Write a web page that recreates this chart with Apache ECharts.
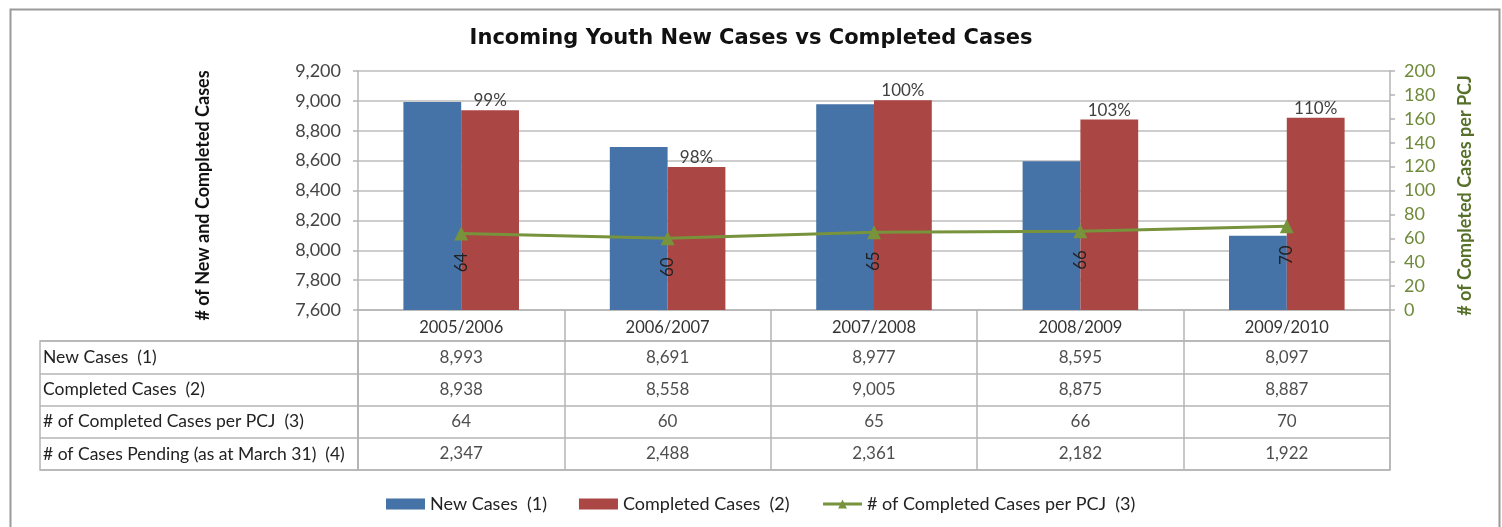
<!DOCTYPE html>
<html>
<head>
<meta charset="utf-8">
<title>Incoming Youth New Cases vs Completed Cases</title>
<script src="https://cdn.jsdelivr.net/npm/echarts@6/dist/echarts.min.js"></script>
<style>
  html, body { margin: 0; padding: 0; background: #fff; }
  #chart { width: 1502px; height: 527px; }
</style>
</head>
<body>
<div id="chart"></div>
<script>
// fiscal years
var years = ['2005/2006', '2006/2007', '2007/2008', '2008/2009', '2009/2010'];
var newCases = [8993, 8691, 8977, 8595, 8097];
var completedCases = [8938, 8558, 9005, 8875, 8887];
var casesPerPcj = [64, 60, 65, 66, 70];
var casesPending = [2347, 2488, 2361, 2182, 1922];
// labels over the completed bars
var clearanceRate = ['99%', '98%', '100%', '103%', '110%'];
var rowLabels = [
  'New Cases  (1)',
  'Completed Cases  (2)',
  '# of Completed Cases per PCJ  (3)',
  '# of Cases Pending (as at March 31)  (4)'
];

var FONT = 'Lato';
var GRID_COLOR = '#bdbdbd';
var BORDER_COLOR = '#b4b4b4';

// data table under the chart, one cell per [year, row, value]
var tableRows = [newCases, completedCases, casesPerPcj, casesPending];
var tableCells = [];
tableRows.forEach(function (row, r) {
  row.forEach(function (v, i) {
    tableCells.push([i, r, v]);
  });
});

var myChart = echarts.init(document.getElementById('chart'));

var option = {
  animation: false,
  backgroundColor: '#fff',
  textStyle: { fontFamily: FONT },
  title: {
    text: 'Incoming Youth New Cases vs Completed Cases',
    left: 'center',
    top: 23,
    textStyle: { fontFamily: 'DejaVu Sans', fontSize: 21, fontWeight: 'bold', color: '#111' }
  },
  legend: {
    top: 495,
    left: 386,
    padding: 0,
    itemWidth: 39,
    itemHeight: 11,
    itemGap: 32,
    textStyle: { fontFamily: FONT, fontSize: 18, color: '#222' },
    data: [
      { name: 'New Cases  (1)', icon: 'rect' },
      { name: 'Completed Cases  (2)', icon: 'rect' },
      { name: '# of Completed Cases per PCJ  (3)', lineStyle: { width: 3 } }
    ]
  },
  graphic: [{
    type: 'rect',
    left: 8, top: 7,
    shape: { width: 1489, height: 540 },
    style: { fill: 'none', stroke: '#9a9a9a', lineWidth: 2 },
    silent: true
  }],
  grid: [
    { left: 358, right: 112, top: 71, height: 239 },
    { left: 40, width: 318, top: 341, height: 129, show: true, borderColor: BORDER_COLOR, borderWidth: 1.5 },
    { left: 358, width: 1032, top: 341, height: 129, show: true, borderColor: BORDER_COLOR, borderWidth: 1.5 }
  ],
  xAxis: [
    {
      type: 'category',
      gridIndex: 0,
      data: years,
      axisLine: { lineStyle: { color: BORDER_COLOR, width: 1.5 } },
      axisTick: { show: true, length: 31, lineStyle: { color: BORDER_COLOR, width: 1.5 } },
      axisLabel: { fontSize: 16.5, color: '#333', margin: 9 }
    },
    { type: 'value', gridIndex: 1, show: false, min: 0, max: 1 },
    {
      type: 'category',
      gridIndex: 2,
      data: years,
      axisLine: { show: false },
      axisTick: { show: false },
      axisLabel: { show: false },
      splitLine: { show: true, interval: 0, lineStyle: { color: BORDER_COLOR, width: 1.5 } }
    }
  ],
  yAxis: [
    {
      type: 'value',
      gridIndex: 0,
      min: 7600,
      max: 9200,
      interval: 200,
      name: '# of New and Completed Cases',
      nameLocation: 'middle',
      nameGap: 146,
      nameTextStyle: { fontFamily: FONT, fontSize: 18, fontWeight: 'bold', color: '#111', padding: [0, 10, 0, 0] },
      axisLine: { show: true, lineStyle: { color: BORDER_COLOR, width: 1.5 } },
      axisTick: { show: true, length: 5, lineStyle: { color: BORDER_COLOR, width: 1.5 } },
      axisLabel: {
        fontSize: 18, color: '#444', margin: 17,
        formatter: function (v) { return v.toLocaleString('en-US'); }
      },
      splitLine: { lineStyle: { color: GRID_COLOR, width: 1.5 } }
    },
    {
      type: 'value',
      gridIndex: 0,
      position: 'right',
      min: 0,
      max: 200,
      interval: 20,
      name: '# of Completed Cases per PCJ',
      nameLocation: 'middle',
      nameGap: 66,
      nameRotate: 90,
      nameTextStyle: { fontFamily: FONT, fontSize: 18, fontWeight: 'bold', color: '#56702a', padding: [0, 10, 0, 0] },
      axisLine: { show: true, lineStyle: { color: BORDER_COLOR, width: 1.5 } },
      axisTick: { show: true, length: 5, lineStyle: { color: BORDER_COLOR, width: 1.5 } },
      axisLabel: { fontSize: 18, color: '#6f8a3a', margin: 14 },
      splitLine: { show: false }
    },
    {
      type: 'category',
      gridIndex: 1,
      inverse: true,
      data: rowLabels,
      axisLine: { show: false },
      axisTick: { show: false },
      axisLabel: { fontSize: 17.5, color: '#222', align: 'left', margin: -3 },
      splitLine: { show: true, interval: 0, lineStyle: { color: BORDER_COLOR, width: 1.5 } }
    },
    {
      type: 'category',
      gridIndex: 2,
      inverse: true,
      data: rowLabels,
      axisLine: { show: false },
      axisTick: { show: false },
      axisLabel: { show: false },
      splitLine: { show: true, interval: 0, lineStyle: { color: BORDER_COLOR, width: 1.5 } }
    }
  ],
  series: [
    {
      name: 'New Cases  (1)',
      type: 'bar',
      xAxisIndex: 0,
      yAxisIndex: 0,
      barWidth: '28%',
      barGap: '0%',
      itemStyle: { color: '#4572a7' },
      data: newCases
    },
    {
      name: 'Completed Cases  (2)',
      type: 'bar',
      xAxisIndex: 0,
      yAxisIndex: 0,
      barWidth: '28%',
      itemStyle: { color: '#aa4643' },
      label: {
        show: true,
        position: 'top',
        distance: 1,
        fontSize: 17,
        color: '#404040',
        formatter: function (p) { return clearanceRate[p.dataIndex]; }
      },
      data: completedCases
    },
    {
      name: '# of Completed Cases per PCJ  (3)',
      type: 'line',
      xAxisIndex: 0,
      yAxisIndex: 1,
      symbol: 'triangle',
      symbolSize: 14,
      lineStyle: { color: '#77933c', width: 3 },
      itemStyle: { color: '#77933c' },
      label: {
        show: true,
        position: 'bottom',
        distance: 12,
        rotate: 90,
        align: 'right',
        verticalAlign: 'middle',
        fontSize: 17,
        color: '#222'
      },
      z: 5,
      data: casesPerPcj
    },
    {
      name: 'table',
      type: 'scatter',
      xAxisIndex: 2,
      yAxisIndex: 3,
      symbolSize: 1,
      silent: true,
      itemStyle: { color: 'rgba(0,0,0,0)' },
      label: {
        show: true,
        position: 'inside',
        fontSize: 17,
        color: '#222',
        formatter: function (p) { return p.value[2].toLocaleString('en-US'); }
      },
      data: tableCells
    }
  ]
};

myChart.setOption(option);
</script>
</body>
</html>
